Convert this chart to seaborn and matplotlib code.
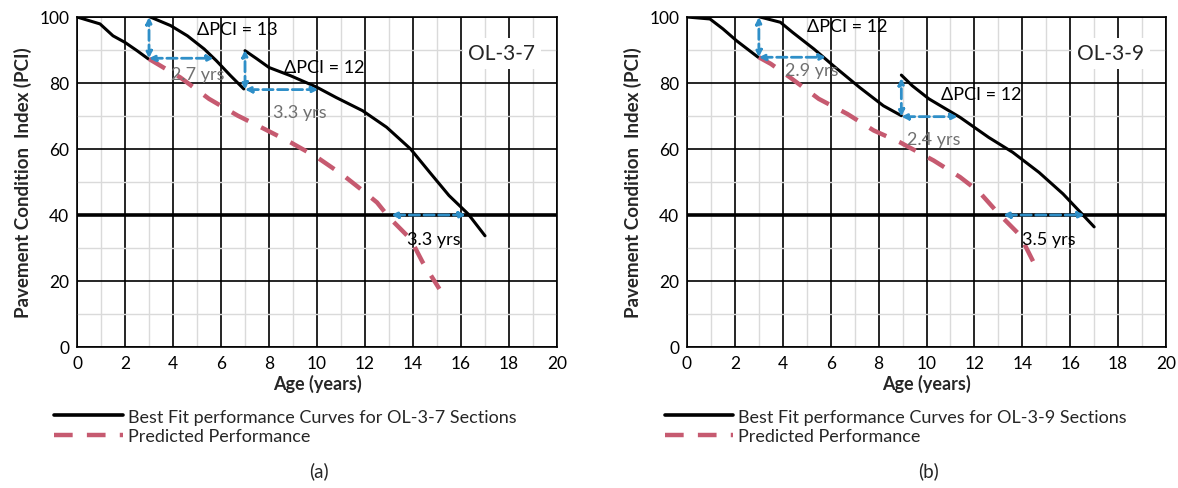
import numpy as np
import pandas as pd
import matplotlib
matplotlib.use("Agg")
import matplotlib.pyplot as plt
import seaborn as sns
from matplotlib.lines import Line2D

sns.set_style("white")
plt.rcParams["font.family"] = ["Lato", "DejaVu Sans"]

# ---- panel (a) OL-3-7 ----
a_fit1_x = [0, 0.96, 1.5, 2.0, 2.5, 2.97]
a_fit1_y = [100, 97.9, 94.3, 92.3, 89.8, 87.3]
a_fit2_x = [3.05, 3.9, 4.6, 5.3, 5.8, 6.4, 6.95]
a_fit2_y = [100, 97.4, 94.3, 90.3, 86.8, 82.2, 78.2]
a_fit3_x = [7.0, 7.5, 8.0, 8.9, 10.0, 10.8, 11.9, 12.9, 13.9, 14.7, 15.5, 16.3, 17.0]
a_fit3_y = [89.8, 87.3, 84.7, 82.2, 78.7, 75.6, 71.6, 66.6, 60, 52.9, 45.9, 40.3, 33.7]
a_pred_x = [3.0, 3.6, 4.3, 5.5, 6.7, 7.8, 8.9, 10.0, 11.1, 11.9, 12.5, 13.0, 13.9, 14.4, 15.1]
a_pred_y = [87.3, 84.7, 81.7, 75.2, 70.1, 66.1, 62, 57.5, 52, 47.4, 43.8, 39.3, 32.7, 25.7, 17.6]

# ---- panel (b) OL-3-9 ----
b_fit1_x = [0, 0.96, 1.5, 2.07, 2.97]
b_fit1_y = [100, 99.4, 96.4, 92.8, 87.8]
b_fit2_x = [3.05, 3.9, 4.4, 5.3, 6.1, 7.2, 8.2, 8.95]
b_fit2_y = [100, 98.4, 95.4, 90.3, 85.3, 78.7, 73.1, 70.1]
b_fit3_x = [8.95, 9.4, 10.1, 11.4, 12.6, 13.6, 14.7, 15.7, 16.3, 17.0]
b_fit3_y = [82.4, 79.2, 75.2, 69.6, 63.5, 59, 52.9, 46.4, 41.8, 36.4]
b_pred_x = [3.0, 3.5, 4.3, 5.5, 6.7, 7.8, 8.9, 10.3, 11.4, 12.2, 13.0, 13.9, 14.6]
b_pred_y = [87.8, 85.8, 81.7, 75.2, 70.6, 65.6, 62, 56.5, 51.5, 47, 40.5, 33.9, 23.8]

# arrows: (x0, y0, x1, y1)
a_arrows = [(3, 87.5, 3, 100), (3, 87.5, 5.7, 87.5), (7, 78, 7, 90),
            (7, 78, 10.05, 78), (13.1, 40, 16.2, 40)]
b_arrows = [(3, 87.8, 3, 100), (3, 87.8, 5.8, 87.8), (8.95, 69.8, 8.95, 81.5),
            (8.95, 69.8, 11.3, 69.8), (13.2, 40, 16.6, 40)]
# labels: (x, y, text, colour)
a_labels = [(6.7, 96.4, "ΔPCI = 13", "black"), (5.05, 82.7, "2.7 yrs", "#707070"),
            (10.3, 84.7, "ΔPCI = 12", "black"), (9.3, 71.1, "3.3 yrs", "#707070"),
            (14.85, 32.7, "3.3 yrs", "black")]
b_labels = [(6.7, 97.4, "ΔPCI = 12", "black"), (5.2, 83.8, "2.9 yrs", "#707070"),
            (12.3, 76.7, "ΔPCI = 12", "black"), (10.3, 63, "2.4 yrs", "#707070"),
            (15.1, 32.7, "3.5 yrs", "black")]

blue = "#2F8FC8"
red = "#C65A70"

fig = plt.figure(figsize=(11.78, 4.89), dpi=100)
ax1 = fig.add_axes([77 / 1178, 141 / 489, 480 / 1178, 330 / 489])
ax2 = fig.add_axes([687 / 1178, 141 / 489, 479 / 1178, 330 / 489])

panels = [
    (ax1, [(a_fit1_x, a_fit1_y), (a_fit2_x, a_fit2_y), (a_fit3_x, a_fit3_y)],
     (a_pred_x, a_pred_y), a_arrows, a_labels, "OL-3-7", "(a)"),
    (ax2, [(b_fit1_x, b_fit1_y), (b_fit2_x, b_fit2_y), (b_fit3_x, b_fit3_y)],
     (b_pred_x, b_pred_y), b_arrows, b_labels, "OL-3-9", "(b)"),
]

for ax, fits, pred, arrows, labels, name, tag in panels:
    ax.set_xlim(0, 20)
    ax.set_ylim(0, 100)
    ax.set_xticks(np.arange(0, 21, 2))
    ax.set_yticks(np.arange(0, 101, 20))
    ax.set_xticks(np.arange(1, 20, 2), minor=True)
    ax.set_yticks(np.arange(10, 100, 20), minor=True)
    ax.grid(which="minor", color="#DADADA", lw=1.0)
    ax.grid(which="major", color="black", lw=1.2)
    ax.set_axisbelow(True)
    for s in ax.spines.values():
        s.set_color("black")
        s.set_linewidth(1.2)
    ax.tick_params(which="major", direction="inout", length=7, width=1.2,
                   labelsize=12.5, colors="black", pad=2)
    ax.tick_params(which="minor", length=0)

    ax.axhline(40, color="black", lw=2.6, zorder=2)

    for fx, fy in fits:
        df = pd.DataFrame({"x": fx, "y": fy})
        sns.lineplot(data=df, x="x", y="y", ax=ax, color="black", lw=2.2,
                     sort=False, estimator=None, zorder=3)
    dfp = pd.DataFrame({"x": pred[0], "y": pred[1]})
    sns.lineplot(data=dfp, x="x", y="y", ax=ax, color=red, lw=3.2,
                 sort=False, estimator=None, zorder=3)
    ax.lines[-1].set_dashes([4.2, 3.2])

    for x0, y0, x1, y1 in arrows:
        ax.annotate("", xy=(x1, y1), xytext=(x0, y0),
                    arrowprops=dict(arrowstyle="<|-|>", color=blue, lw=2.0,
                                    ls="--", mutation_scale=9,
                                    shrinkA=0, shrinkB=0), zorder=4)
    for x, y, t, c in labels:
        ax.text(x, y, t, color=c, fontsize=13, ha="center", va="center", zorder=5)

    ax.text(17.7, 89, name, fontsize=15, ha="center", va="center", zorder=5,
            bbox=dict(facecolor="white", edgecolor="none", pad=4))

    ax.set_xlabel("Age (years)", fontsize=13, fontweight="bold", labelpad=2)
    ax.set_ylabel("Pavement Condition  Index (PCI)", fontsize=13.5,
                  fontweight="bold", labelpad=5)

    handles = [Line2D([], [], color="black", lw=2.6),
               Line2D([], [], color=red, lw=3.2, dashes=[4.2, 3.2])]
    ax.legend(handles, ["Best Fit performance Curves for " + name + " Sections",
                        "Predicted Performance"],
              loc="upper left", bbox_to_anchor=(-0.062, -0.165), frameon=False,
              fontsize=13, handlelength=3.8, handletextpad=0.25,
              labelspacing=0.2, borderaxespad=0)
    ax.text(0.504, -0.372, tag, transform=ax.transAxes, fontsize=13.5,
            ha="center", va="center")

fig.savefig("out.png", dpi=100, facecolor="white")
